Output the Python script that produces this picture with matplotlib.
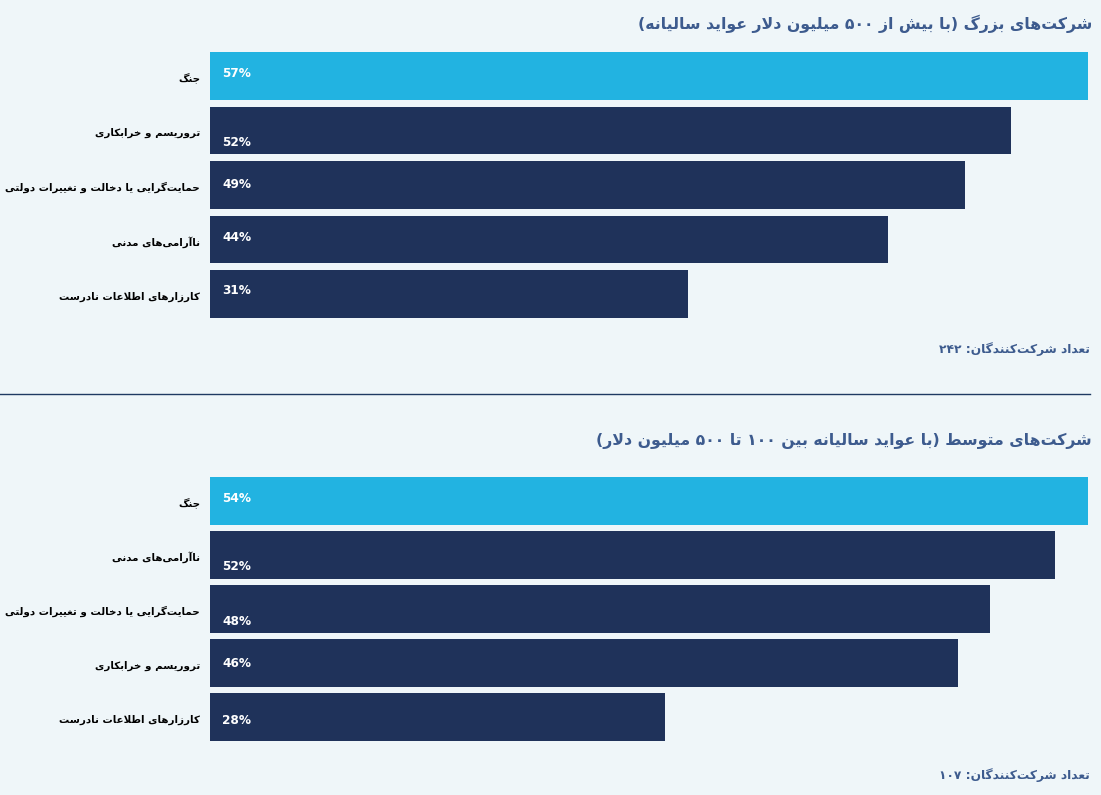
import matplotlib
matplotlib.use("Agg")
import matplotlib.pyplot as plt

# داده‌ها
title_top = "شرکت‌های بزرگ (با بیش از ۵۰۰ میلیون دلار عواید سالیانه)"
cats_top = ["جنگ", "تروریسم و خرابکاری", "حمایت‌گرایی یا دخالت و تغییرات دولتی",
            "ناآرامی‌های مدنی", "کارزارهای اطلاعات نادرست"]
vals_top = [57, 52, 49, 44, 31]
note_top = "تعداد شرکت‌کنندگان: ۲۴۲"

title_bot = "شرکت‌های متوسط (با عواید سالیانه بین ۱۰۰ تا ۵۰۰ میلیون دلار)"
cats_bot = ["جنگ", "ناآرامی‌های مدنی", "حمایت‌گرایی یا دخالت و تغییرات دولتی",
            "تروریسم و خرابکاری", "کارزارهای اطلاعات نادرست"]
vals_bot = [54, 52, 48, 46, 28]
note_bot = "تعداد شرکت‌کنندگان: ۱۰۷"

# شکل‌دهی ساده حروف فارسی (matplotlib خودش این کار را نمی‌کند)
# iso, fin, ini, med
FORMS = {
    'ا': (0xFE8D, 0xFE8E), 'آ': (0xFE81, 0xFE82), 'د': (0xFEA9, 0xFEAA),
    'ذ': (0xFEAB, 0xFEAC), 'ر': (0xFEAD, 0xFEAE), 'ز': (0xFEAF, 0xFEB0),
    'و': (0xFEED, 0xFEEE), 'ژ': (0xFB8A, 0xFB8B),
    'ب': (0xFE8F, 0xFE90, 0xFE91, 0xFE92), 'ت': (0xFE95, 0xFE96, 0xFE97, 0xFE98),
    'ث': (0xFE99, 0xFE9A, 0xFE9B, 0xFE9C), 'ج': (0xFE9D, 0xFE9E, 0xFE9F, 0xFEA0),
    'ح': (0xFEA1, 0xFEA2, 0xFEA3, 0xFEA4), 'خ': (0xFEA5, 0xFEA6, 0xFEA7, 0xFEA8),
    'س': (0xFEB1, 0xFEB2, 0xFEB3, 0xFEB4), 'ش': (0xFEB5, 0xFEB6, 0xFEB7, 0xFEB8),
    'ص': (0xFEB9, 0xFEBA, 0xFEBB, 0xFEBC), 'ض': (0xFEBD, 0xFEBE, 0xFEBF, 0xFEC0),
    'ط': (0xFEC1, 0xFEC2, 0xFEC3, 0xFEC4), 'ظ': (0xFEC5, 0xFEC6, 0xFEC7, 0xFEC8),
    'ع': (0xFEC9, 0xFECA, 0xFECB, 0xFECC), 'غ': (0xFECD, 0xFECE, 0xFECF, 0xFED0),
    'ف': (0xFED1, 0xFED2, 0xFED3, 0xFED4), 'ق': (0xFED5, 0xFED6, 0xFED7, 0xFED8),
    'ل': (0xFEDD, 0xFEDE, 0xFEDF, 0xFEE0), 'م': (0xFEE1, 0xFEE2, 0xFEE3, 0xFEE4),
    'ن': (0xFEE5, 0xFEE6, 0xFEE7, 0xFEE8), 'ه': (0xFEE9, 0xFEEA, 0xFEEB, 0xFEEC),
    'پ': (0xFB56, 0xFB57, 0xFB58, 0xFB59), 'چ': (0xFB7A, 0xFB7B, 0xFB7C, 0xFB7D),
    'ک': (0xFB8E, 0xFB8F, 0xFB90, 0xFB91), 'گ': (0xFB92, 0xFB93, 0xFB94, 0xFB95),
    'ی': (0xFBFC, 0xFBFD, 0xFBFE, 0xFBFF),
}
LAM_ALEF = {'ا': (0xFEFB, 0xFEFC), 'آ': (0xFEF5, 0xFEF6)}


def dual(c):
    return c in FORMS and len(FORMS[c]) == 4


def fa(text):
    out = []
    n = len(text)
    i = 0
    while i < n:
        c = text[i]
        if c == '\u200c':
            i += 1
            continue
        if c not in FORMS:
            out.append(c)
            i += 1
            continue
        prev = text[i - 1] if i > 0 else ''
        join_prev = dual(prev)
        if c == 'ل' and i + 1 < n and text[i + 1] in LAM_ALEF:
            f = LAM_ALEF[text[i + 1]]
            out.append(chr(f[1] if join_prev else f[0]))
            i += 2
            continue
        nxt = text[i + 1] if i + 1 < n else ''
        join_next = dual(c) and nxt in FORMS
        f = FORMS[c]
        if join_prev and join_next:
            g = f[3]
        elif join_prev:
            g = f[1]
        elif join_next:
            g = f[2]
        else:
            g = f[0]
        out.append(chr(g))
        i += 1
    # راست به چپ
    out = out[::-1]
    res = []
    run = []
    for ch in out:
        if ch.isdigit():
            run.append(ch)
        else:
            res.extend(run[::-1])
            run = []
            res.append({'(': ')', ')': '('}.get(ch, ch))
    res.extend(run[::-1])
    return ''.join(res)


BG = '#eff6f9'
LIGHT = '#22b3e1'
DARK = '#1f325a'
TITLE_C = '#3d5b8e'
W, H = 1101, 795

fig = plt.figure(figsize=(W / 100, H / 100), dpi=100)
fig.patch.set_facecolor(BG)
plt.rcParams['font.family'] = ['DejaVu Sans']


def panel(top_px, bot_px, cats, vals, lbl_dy):
    ax = fig.add_axes([210 / W, 1 - bot_px / H, 878 / W, (bot_px - top_px) / H])
    ax.set_facecolor(BG)
    ypos = list(range(len(vals)))
    colors = [LIGHT] + [DARK] * (len(vals) - 1)
    ax.barh(ypos, vals, height=0.88, color=colors)
    ax.set_xlim(0, max(vals))
    ax.set_ylim(len(vals) - 1 + 0.44, -0.44)
    ax.axis('off')
    for y, v, c, dy in zip(ypos, vals, cats, lbl_dy):
        ax.text(max(vals) * 12 / 878, y + dy, f"{v}%", color='white',
                fontsize=8.7, fontweight='bold', va='center', ha='left')
        ax.text(-max(vals) * 10 / 878, y + 0.05, fa(c), color='black',
                fontsize=7.4, fontweight='bold', va='center', ha='right')
    return ax


panel(52, 318, cats_top, vals_top, [-0.04, 0.22, 0, -0.04, -0.06])
panel(477, 741, cats_bot, vals_bot, [-0.04, 0.22, 0.24, 0, 0.06])

fig.text(1092 / W, 1 - 24 / H, fa(title_top), ha='right', va='center',
         fontsize=11.3, fontweight='bold', color=TITLE_C)
fig.text(1092 / W, 1 - 441 / H, fa(title_bot), ha='right', va='center',
         fontsize=11.3, fontweight='bold', color=TITLE_C)
fig.text(1090 / W, 1 - 349 / H, fa(note_top), ha='right', va='center',
         fontsize=8.8, fontweight='bold', color=TITLE_C)
fig.text(1090 / W, 1 - 775 / H, fa(note_bot), ha='right', va='center',
         fontsize=8.8, fontweight='bold', color=TITLE_C)

fig.add_artist(plt.Line2D([0, 1090 / W], [1 - 394 / H, 1 - 394 / H],
                          color='#1f3a62', linewidth=1))

plt.savefig('out.png', dpi=100, facecolor=BG)
